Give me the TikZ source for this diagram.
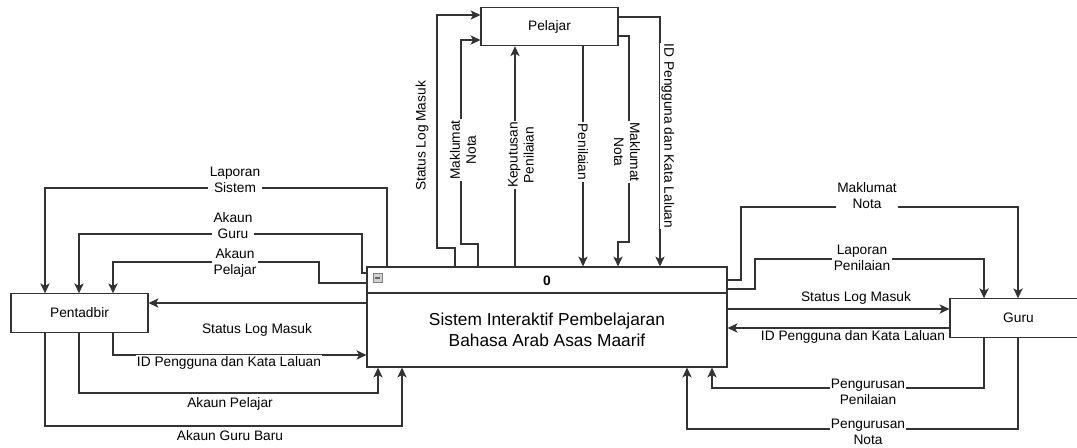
\documentclass[tikz,border=0pt]{standalone}
\usepackage{fontspec}
\setmainfont{Liberation Sans}
\usetikzlibrary{arrows.meta}

\begin{document}
\begin{tikzpicture}
  [x=0.75pt,y=-0.75pt,
   every node/.style={font=\fontsize{10.3}{12}\selectfont},
   entity/.style={draw=black!80,line width=0.8pt,minimum width=102.75pt,minimum height=28.75pt,inner sep=0pt},
   flow/.style={draw=black!80,line width=0.8pt,-{Stealth[length=7.5pt,width=7pt,inset=2pt]}},
   lbl/.style={fill=white,align=center,inner sep=1pt}]
  \useasboundingbox (0,0) rectangle (1077,447);
  % entities
  \node[entity] (pelajar) at (549.5,26.5) {Pelajar};
  \node[entity] (pentadbir) at (79.5,313) {Pentadbir};
  \node[entity] (guru) at (1018.5,318) {Guru};
  % process 0
  \node[entity,minimum width=270pt,minimum height=75pt] (sistem) at (547,317) {};
  \draw[black!80,line width=0.8pt] (sistem.west |- 0,293) -- (sistem.east |- 0,293);
  \node[draw=gray,fill=gray!35,minimum size=6.5pt,inner sep=0pt] (ikon) at (377.5,278) {};
  \draw[black!60,line width=0.9pt] ([xshift=-2pt]ikon.center) -- ([xshift=2pt]ikon.center);
  \node[font=\fontsize{10.3}{12}\selectfont\bfseries] (nombor) at (547,281) {0};
  \node[font=\fontsize{13}{15.75}\selectfont,align=center] (nama) at (547,330)
    {Sistem Interaktif Pembelajaran\\ Bahasa Arab Asas Maarif};

  % Pelajar
  \draw[flow] (sistem.north -| 455,0) |- (437,248) |- (pelajar.west |- 0,15);
  \draw[flow] (sistem.north -| 478,0) |- (461,244) |- (pelajar.west |- 0,40);
  \draw[flow] (sistem.north -| 515,0) -- (pelajar.south -| 515,0);
  \draw[flow] (pelajar.south -| 583,0) -- (sistem.north -| 583,0);
  \draw[flow] (pelajar.east |- 0,36) -| (629,242) -| (sistem.north -| 618,0);
  \draw[flow] (pelajar.east |- 0,17) -| (sistem.north -| 660,0);

  % Pentadbir
  \draw[flow] (sistem.north -| 387,0) -- (387,188) -| (pentadbir.north -| 45,0);
  \draw[flow] (sistem.west |- 0,273) -| (362,234) -| (pentadbir.north -| 79,0);
  \draw[flow] (sistem.west |- 0,283) -| (319,262) -| (pentadbir.north -| 113,0);
  \draw[flow] (sistem.west |- 0,303) -- (pentadbir.east |- 0,303);
  \draw[flow] (pentadbir.south -| 113,0) |- (sistem.west |- 0,355);
  \draw[flow] (pentadbir.south -| 79,0) |- (378,393) -- (sistem.south -| 378,0);
  \draw[flow] (pentadbir.south -| 45,0) |- (402,426) -- (sistem.south -| 402,0);

  % Guru
  \draw[flow] (sistem.east |- 0,280) -| (741,207) -| (guru.north -| 1018,0);
  \draw[flow] (sistem.east |- 0,289) -| (755,259) -| (guru.north -| 984,0);
  \draw[flow] (sistem.east |- 0,309) -- (guru.west |- 0,309);
  \draw[flow] (guru.west |- 0,328) -- (sistem.east |- 0,328);
  \draw[flow] (guru.south -| 984,0) |- (712,388) -- (sistem.south -| 712,0);
  \draw[flow] (guru.south -| 1018,0) |- (687,429) -- (sistem.south -| 687,0);

  % labels
  \node[lbl,rotate=90] (t1) at (422,136) {Status Log Masuk};
  \node[lbl,rotate=90] (t2) at (463,150) {Maklumat\\Nota};
  \node[lbl,rotate=90] (t3) at (521,155) {Keputusan\\Penilaian};
  \node[lbl,rotate=-90] (t4) at (583,152) {Penilaian};
  \node[lbl,rotate=-90] (t5) at (627,152) {Maklumat\\Nota};
  \node[lbl,rotate=-90] (t6) at (668,136) {ID Pengguna dan Kata Laluan};
  \node[lbl] (l1) at (235,180) {Laporan\\Sistem};
  \node[lbl] (l2) at (233,226) {Akaun\\Guru};
  \node[lbl] (l3) at (235,263) {Akaun\\Pelajar};
  \node[lbl] (l4) at (257,330) {Status Log Masuk};
  \node[lbl] (l5) at (229,363) {ID Pengguna dan Kata Laluan};
  \node[lbl] (l6) at (230,404) {Akaun Pelajar};
  \node[lbl] (l7) at (230,436) {Akaun Guru Baru};
  \node[lbl] (r1) at (867,196) {Maklumat\\Nota};
  \node[lbl] (r2) at (862,258) {Laporan\\Penilaian};
  \node[lbl] (r3) at (856,298) {Status Log Masuk};
  \node[lbl] (r4) at (853,337) {ID Pengguna dan Kata Laluan};
  \node[lbl] (r5) at (868,392) {Pengurusan\\Penilaian};
  \node[lbl] (r6) at (868,432) {Pengurusan\\Nota};
\end{tikzpicture}
\end{document}
